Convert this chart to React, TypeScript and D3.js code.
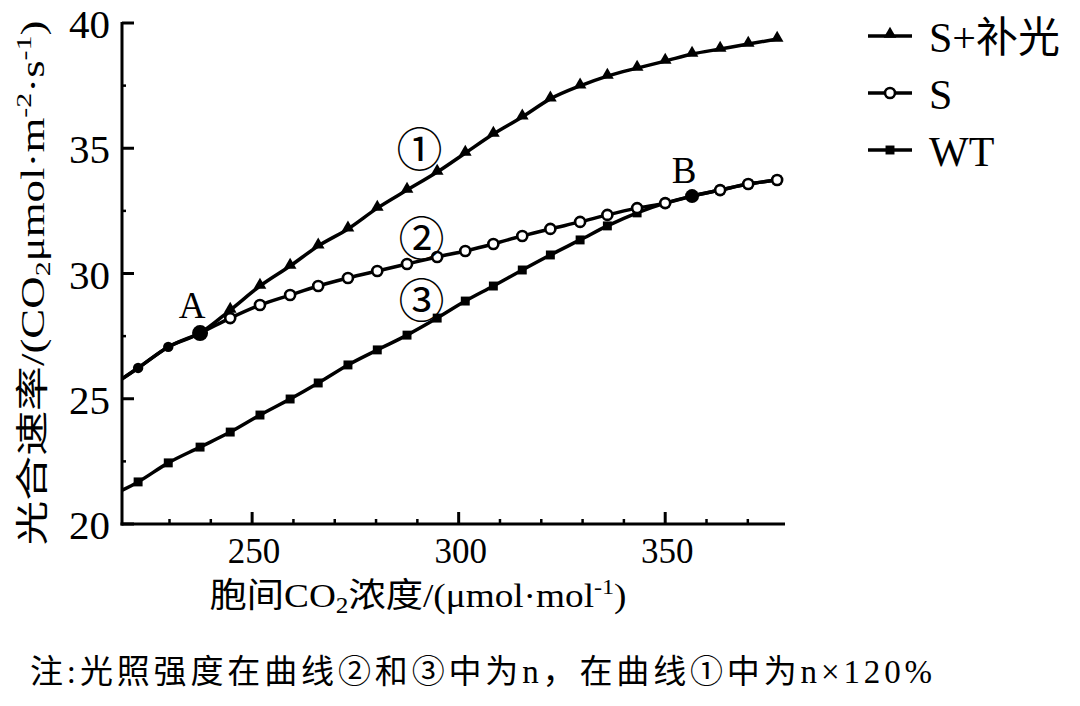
import React from "react";
import * as d3 from "d3";

// ---- data ----
const xValues = [215.4, 222.4, 229.7, 237.4, 244.7, 251.9, 259.2, 266.0, 273.2, 280.3, 287.5, 294.8, 301.6, 308.4, 315.4, 322.2, 329.4, 336.0, 343.2, 350.0, 356.5, 363.3, 370.1, 377.1];
const sPlusLight = [25.45, 26.23, 27.07, 27.62, 28.54, 29.5, 30.3, 31.1, 31.78, 32.61, 33.33, 34.05, 34.81, 35.57, 36.25, 36.97, 37.49, 37.88, 38.2, 38.48, 38.76, 38.96, 39.16, 39.36];
const sValues = [25.45, 26.23, 27.07, 27.62, 28.22, 28.74, 29.14, 29.5, 29.82, 30.1, 30.38, 30.66, 30.9, 31.18, 31.5, 31.78, 32.06, 32.34, 32.61, 32.81, 33.09, 33.33, 33.57, 33.73];
const wtValues = [21.1, 21.68, 22.44, 23.07, 23.67, 24.35, 24.99, 25.63, 26.35, 26.95, 27.54, 28.22, 28.9, 29.5, 30.14, 30.74, 31.34, 31.9, 32.42, 32.81, 33.09, 33.33, 33.57, 33.73];
const sharedIndexA = 3; // point A, where S and S+补光 split
const indexB = 20; // point B on S
const xDomain = [218.5, 379];
const yDomain = [20, 40];
const xMajorTicks = [250, 300, 350];
const xMinorTicks = [230, 240, 260, 270, 280, 290, 310, 320, 330, 340, 360, 370];
const yMajorTicks = [20, 25, 30, 35, 40];
const yMinorTicks = [22.5, 27.5, 32.5, 37.5];
const legendItems = ["S+补光", "S", "WT"];
const curveLabels = [
  { text: "①", x: 290.5, y: 35.1 },
  { text: "②", x: 291, y: 31.55 },
  { text: "③", x: 291, y: 29.05 },
];
const noteText = "注:光照强度在曲线②和③中为n，在曲线①中为n×120%";

const W = 1080;
const H = 706;
const serif = "'Liberation Serif', 'Noto Sans CJK SC', serif";
const cjk = "'Noto Sans CJK SC', sans-serif";

export default function App() {
  const x = d3.scaleLinear().domain(xDomain).range([122, 785]);
  const y = d3.scaleLinear().domain(yDomain).range([524, 23]);
  const line = d3
    .line<number>()
    .x((_, i) => x(xValues[i]))
    .y((v) => y(v))
    .curve(d3.curveMonotoneX);

  const tri = d3.symbol().type(d3.symbolTriangle).size(70)() as string;
  const sq = d3.symbol().type(d3.symbolSquare).size(80)() as string;
  const lw = 3.5;

  const onScreen = (i: number) => xValues[i] >= xDomain[0];

  return (
    <svg width={W} height={H} style={{ position: "absolute", left: 0, top: 0, background: "#fff" }}>
      <defs>
        <clipPath id="plot">
          <rect x={122} y={0} width={700} height={524} />
        </clipPath>
      </defs>

      {/* axes */}
      <g stroke="#000" strokeWidth={3} fill="none">
        <line x1={122} y1={y(40) - 1} x2={122} y2={525.5} />
        <line x1={120.5} y1={524} x2={x(xDomain[1])} y2={524} />
        {yMajorTicks.map((t) => (
          <line key={"ym" + t} x1={122} x2={134} y1={y(t)} y2={y(t)} />
        ))}
        {yMinorTicks.map((t) => (
          <line key={"yn" + t} x1={122} x2={126} y1={y(t)} y2={y(t)} strokeWidth={2.5} />
        ))}
        {xMajorTicks.map((t) => (
          <line key={"xm" + t} x1={x(t)} x2={x(t)} y1={524} y2={512} />
        ))}
        {xMinorTicks.map((t) => (
          <line key={"xn" + t} x1={x(t)} x2={x(t)} y1={524} y2={519} strokeWidth={2.5} />
        ))}
      </g>

      {/* tick labels */}
      <g fontFamily={serif} fill="#000">
        {yMajorTicks.map((t) => (
          <text key={"yl" + t} x={110} y={y(t) + 15} textAnchor="end" fontSize={41}>
            {t}
          </text>
        ))}
        {xMajorTicks.map((t) => (
          <text key={"xl" + t} x={x(t) + 2} y={563} textAnchor="middle" fontSize={35}>
            {t}
          </text>
        ))}
      </g>

      {/* axis titles */}
      <text
        fontFamily={serif}
        fontSize={33}
        transform="translate(44,283) rotate(-90)"
        textAnchor="middle"
        textLength={525}
        lengthAdjust="spacingAndGlyphs"
      >
        光合速率/(CO<tspan dy={6} fontSize={22}>2</tspan>
        <tspan dy={-6}>μmol·m</tspan>
        <tspan dy={-13} fontSize={22}>-2</tspan>
        <tspan dy={13}>·s</tspan>
        <tspan dy={-13} fontSize={22}>-1</tspan>
        <tspan dy={13}>)</tspan>
      </text>
      <text fontFamily={serif} fontSize={34} x={418} y={607} textAnchor="middle" textLength={417} lengthAdjust="spacingAndGlyphs">
        胞间CO<tspan dy={6} fontSize={23}>2</tspan>
        <tspan dy={-6}>浓度/(μmol·mol</tspan>
        <tspan dy={-13} fontSize={22}>-1</tspan>
        <tspan dy={13}>)</tspan>
      </text>

      {/* lines */}
      <g clipPath="url(#plot)" fill="none" stroke="#000" strokeWidth={lw} strokeLinejoin="round">
        <path d={line(wtValues) || ""} />
        <path d={line(sPlusLight) || ""} />
        <path d={line(sValues) || ""} />
      </g>

      {/* markers */}
      <g clipPath="url(#plot)">
        {wtValues.map((v, i) =>
          onScreen(i) ? <path key={"wt" + i} d={sq} transform={`translate(${x(xValues[i])},${y(v)})`} fill="#000" /> : null
        )}
        {sPlusLight.map((v, i) =>
          i > sharedIndexA ? (
            <path key={"sp" + i} d={tri} transform={`translate(${x(xValues[i])},${y(v) - 1})`} fill="#000" />
          ) : null
        )}
        {sValues.map((v, i) =>
          i > sharedIndexA && i !== indexB ? (
            <circle key={"s" + i} cx={x(xValues[i])} cy={y(v)} r={5} fill="#fff" stroke="#000" strokeWidth={2.6} />
          ) : null
        )}
        {sValues.map((v, i) =>
          i < sharedIndexA && onScreen(i) ? <circle key={"sh" + i} cx={x(xValues[i])} cy={y(v)} r={5.2} fill="#000" /> : null
        )}
        <circle cx={x(xValues[sharedIndexA])} cy={y(sValues[sharedIndexA])} r={8} fill="#000" />
        <circle cx={x(xValues[indexB])} cy={y(sValues[indexB])} r={7} fill="#000" />
      </g>

      {/* point labels */}
      <g fontFamily={serif} fontSize={37} fill="#000">
        <text x={x(xValues[sharedIndexA]) - 8} y={318} textAnchor="middle">A</text>
        <text x={x(xValues[indexB]) - 8} y={183} textAnchor="middle">B</text>
      </g>
      <g fontFamily={cjk} fontSize={46} fill="#000">
        {curveLabels.map((c) => (
          <text key={c.text} x={x(c.x)} y={y(c.y)} textAnchor="middle" dominantBaseline="central">
            {c.text}
          </text>
        ))}
      </g>

      {/* legend */}
      <g>
        {legendItems.map((name, i) => {
          const ly = [36, 93, 150][i];
          return (
            <g key={name}>
              <line x1={868} x2={912} y1={ly} y2={ly} stroke="#000" strokeWidth={lw} />
              {i === 0 && <path d={tri} transform={`translate(890,${ly - 2})`} fill="#000" />}
              {i === 1 && <circle cx={890} cy={ly} r={5} fill="#fff" stroke="#000" strokeWidth={2.6} />}
              {i === 2 && <path d={sq} transform={`translate(890,${ly})`} fill="#000" />}
              <text x={929} y={ly + 16} fontFamily={serif} fontSize={42} fill="#000">
                {name}
              </text>
            </g>
          );
        })}
      </g>

      {/* note */}
      <text x={30} y={683} fontFamily={serif} fontSize={33} fill="#000" textLength={902} lengthAdjust="spacing">
        {noteText}
      </text>
    </svg>
  );
}
